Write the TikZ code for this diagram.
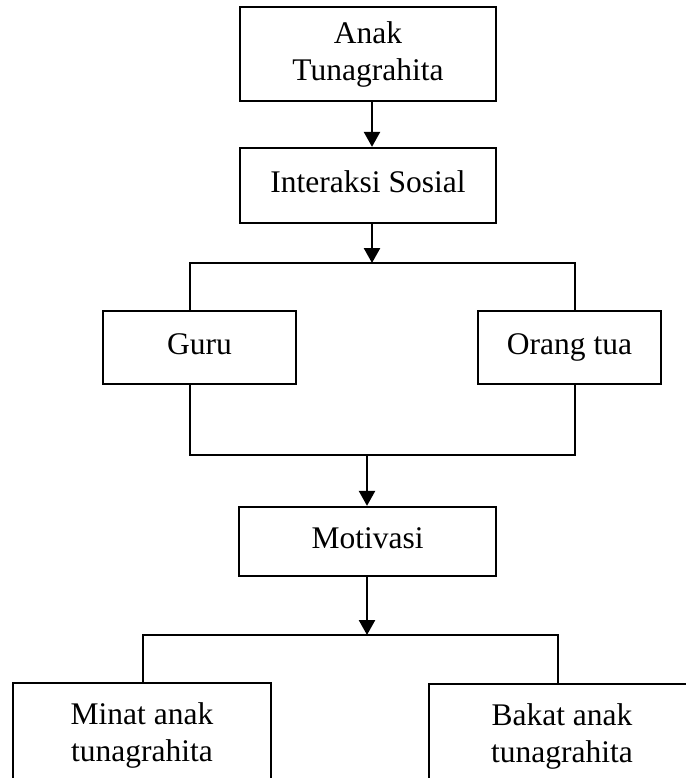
\documentclass[tikz,border=0pt]{standalone}
\usepackage{fontspec}
\setmainfont{Liberation Serif}
\usetikzlibrary{arrows.meta}
\tikzset{
  box/.style={draw, line width=2.3pt, align=center, inner sep=0pt,
    font=\fontsize{31.5}{37}\selectfont},
  arr/.style={line width=2.5pt, -{Triangle[length=15pt,width=16pt]}},
  link/.style={line width=2.3pt},
}
\begin{document}
\begin{tikzpicture}[x=1pt,y=-1pt]
  \useasboundingbox (0,0) rectangle (685,778);
  % top of the chart
  \node[box, minimum width=256pt, minimum height=94pt] (anak) at (368,54) {Anak\\Tunagrahita};
  \node[box, minimum width=256pt, minimum height=75pt] (interaksi) at (368,185.5) {Interaksi Sosial\strut};
  % guru and orang tua
  \node[box, minimum width=193pt, minimum height=73pt] (guru) at (199.5,347.5) {Guru\strut};
  \node[box, minimum width=183pt, minimum height=73pt] (ortu) at (569.5,347.5) {Orang tua\strut};
  \node[box, minimum width=257pt, minimum height=69pt] (motivasi) at (367.5,541.5) {Motivasi\strut};
  % bottom boxes - cut by the page edge
  \node[box, minimum width=258pt, minimum height=104pt] (minat) at (142,735) {Minat anak\\tunagrahita};
  \node[box, minimum width=266pt, minimum height=104pt] (bakat) at (562,736) {Bakat anak\\tunagrahita};
  % corners of the brackets
  \coordinate (topL) at (190,263);
  \coordinate (topM) at (372,263);
  \coordinate (topR) at (575,263);
  \coordinate (botL) at (190,455);
  \coordinate (botM) at (367,455);
  \coordinate (botR) at (575,455);
  \coordinate (lowL) at (143,635);
  \coordinate (lowM) at (367,635);
  \coordinate (lowR) at (558,635);
  % arrows
  \draw[arr] (anak.south -| topM) -- (interaksi.north -| topM);
  \draw[arr] (interaksi.south -| topM) -- (topM);
  \draw[arr] (botM) -- (motivasi.north -| botM);
  \draw[arr] (motivasi.south -| lowM) -- (lowM);
  % brackets
  \draw[link] (guru.north -| topL) -- (topL) -- (topR) -- (ortu.north -| topR);
  \draw[link] (guru.south -| botL) -- (botL) -- (botR) -- (ortu.south -| botR);
  \draw[link] (minat.north -| lowL) -- (lowL) -- (lowR) -- (bakat.north -| lowR);
\end{tikzpicture}
\end{document}
